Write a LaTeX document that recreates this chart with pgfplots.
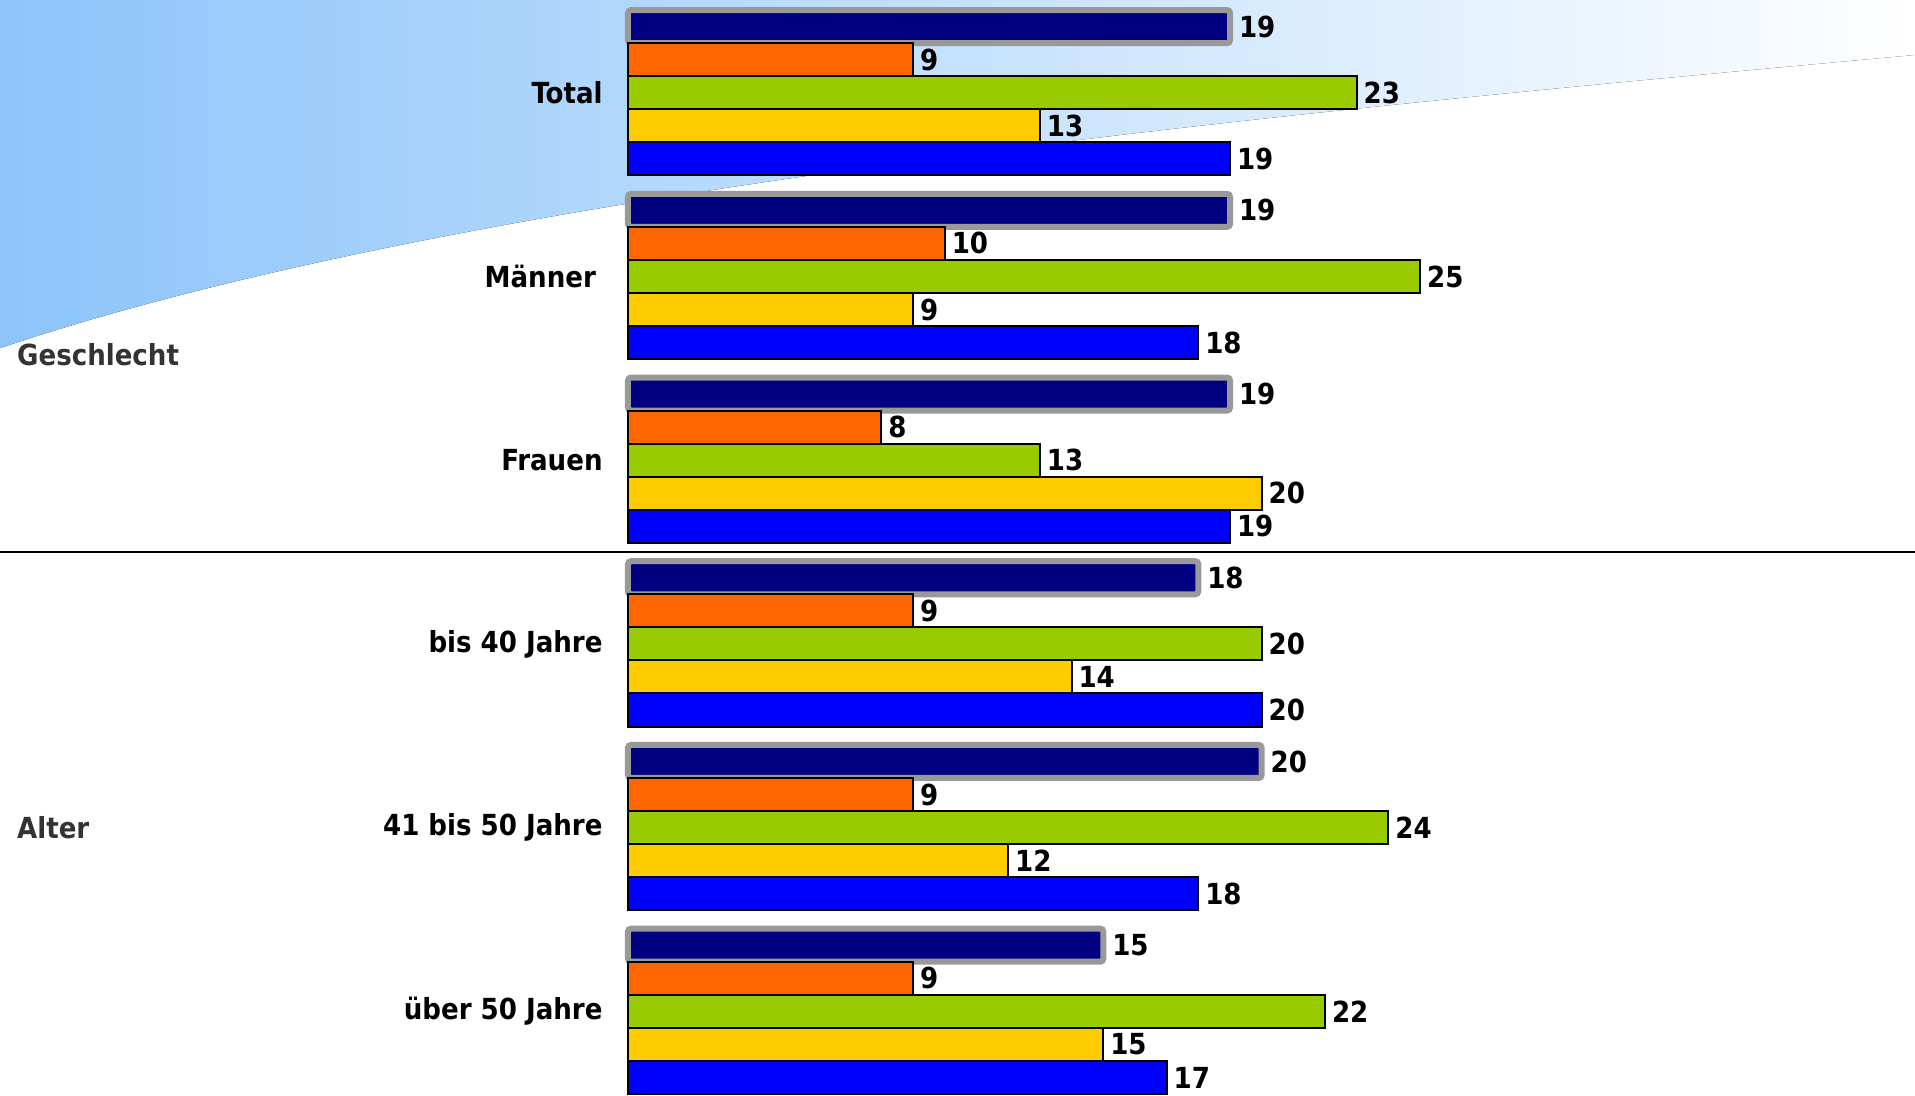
\documentclass[border=0pt]{standalone}
\usepackage{pgfplots}
\pgfplotsset{compat=1.18}
\usepackage{pgfplotstable}
\usepackage{fontspec}
\setmainfont{DejaVu Sans Condensed}
\definecolor{cnavy}{HTML}{000080}
\definecolor{corange}{HTML}{FF6600}
\definecolor{cgreen}{HTML}{99CC00}
\definecolor{cyellow}{HTML}{FFCC00}
\definecolor{cblue}{HTML}{0000FF}
\definecolor{cframe}{HTML}{999999}
\definecolor{skyL}{RGB}{140,196,250}
\definecolor{skyM}{RGB}{200,226,252}
\definecolor{grptxt}{HTML}{333333}

% cat: 5 = Total ... 0 = über 50 Jahre
\pgfplotstableread{
cat navy orange green yellow blue
5   19   9      23    13     19
4   19   10     25    9      18
3   19   8      13    20     19
2   18   9      20    14     20
1   20   9      24    12     18
0   15   9      22    15     17
}\data

\begin{document}
\begin{tikzpicture}
\begin{axis}[
    set layers,
    scale only axis,
    width=957.5pt, height=548pt,
    xmin=-19.82, xmax=40.62,
    ymin=-0.461, ymax=5.505,
    hide axis,
    clip=false,
    xbar, bar width=0.18, bar shift=0pt,
    nodes near coords,
    nodes near coords align={horizontal},
    /pgf/number format/assume math mode=true,
    every node near coord/.append style={font=\fontsize{14.5}{17}\selectfont\bfseries, black, anchor=west, inner sep=3pt},
    every axis plot/.append style={bar shift=0pt, draw=black, line width=1pt},
  ]
  \begin{pgfonlayer}{axis background}
    \fill[left color=skyL, middle color=skyM, right color=white]
      (axis cs:-19.82,5.505) -- (axis cs:-19.82,3.610)
      .. controls (axis cs:-4.40,4.508) and (axis cs:22.58,4.920) ..
      (axis cs:40.62,5.206)
      -- (axis cs:40.62,5.505) -- cycle;
  \end{pgfonlayer}
  \coordinate (SW) at (axis cs:-19.82,-0.461);
  \coordinate (NE) at (axis cs:40.62,5.505);

  \addplot[fill=cnavy, draw=cframe, line width=3pt, rounded corners=1.5pt]
    table[x=navy, y expr=\thisrow{cat}+0.36] {\data};
  \addplot[fill=corange] table[x=orange, y expr=\thisrow{cat}+0.18] {\data};
  \addplot[fill=cgreen]  table[x=green,  y expr=\thisrow{cat}] {\data};
  \addplot[fill=cyellow] table[x=yellow, y expr=\thisrow{cat}-0.18] {\data};
  \addplot[fill=cblue]   table[x=blue,   y expr=\thisrow{cat}-0.36] {\data};

  \draw[line width=1.2pt] (axis cs:-19.82,2.5) -- (axis cs:40.62,2.5);

  \begin{scope}[every node/.style={font=\fontsize{14.5}{17}\selectfont\bfseries, anchor=east, inner sep=0pt}]
    \node at (axis cs:-0.79,5) {Total};
    \node at (axis cs:-1.0,4) {Männer};
    \node at (axis cs:-0.79,3) {Frauen};
    \node at (axis cs:-0.79,2) {bis 40 Jahre};
    \node at (axis cs:-0.79,1) {41 bis 50 Jahre};
    \node at (axis cs:-0.79,0) {über 50 Jahre};
  \end{scope}
  \begin{scope}[every node/.style={font=\fontsize{14.5}{17}\selectfont\bfseries, text=grptxt, anchor=west, inner sep=0pt}]
    \node at (axis cs:-19.29,3.572) {Geschlecht};
    \node at (axis cs:-19.29,1.0) {Alter};
  \end{scope}
\end{axis}
\pgfresetboundingbox
\useasboundingbox (SW) rectangle (NE);
\end{tikzpicture}
\end{document}
